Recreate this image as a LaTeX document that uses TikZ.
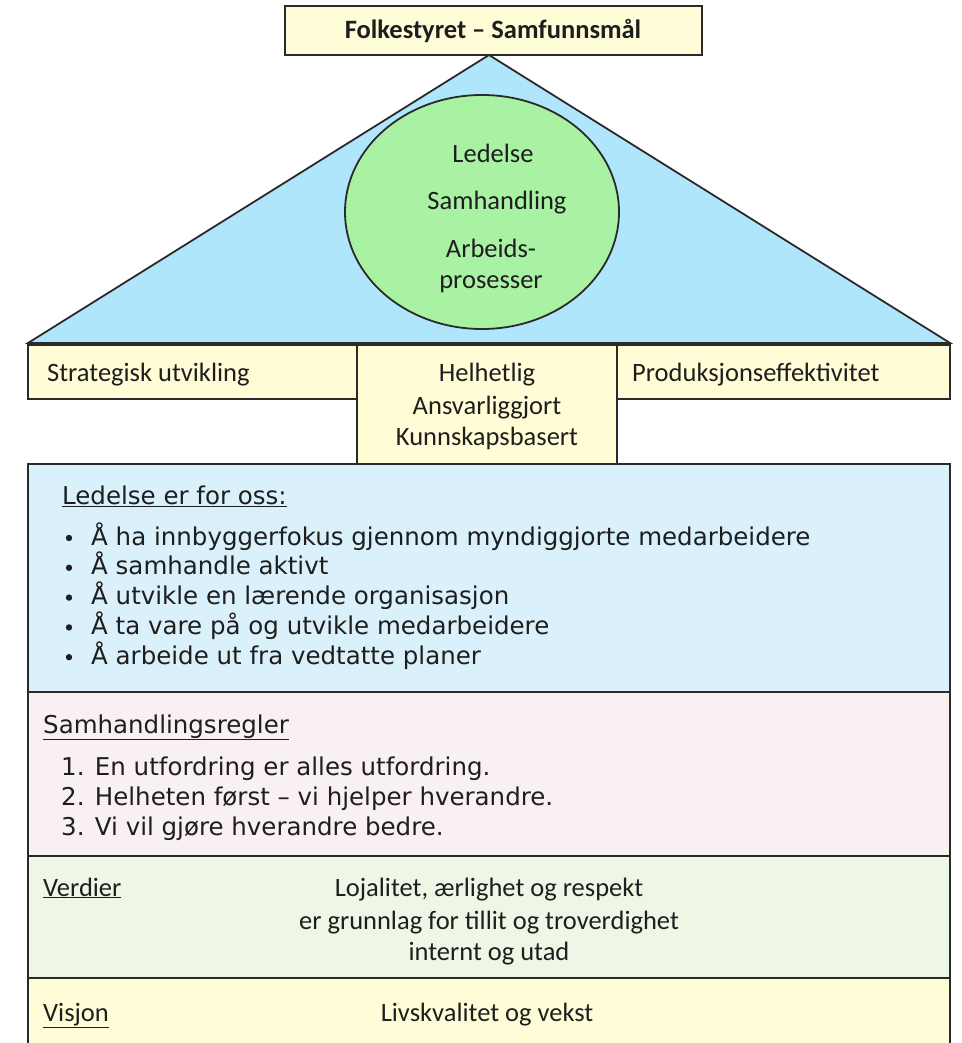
\documentclass[tikz,border=0pt]{standalone}
\usepackage{fontspec}
\usetikzlibrary{shapes.geometric}
\setmainfont{Carlito}
\newfontfamily\verd{DejaVu Sans}
\definecolor{titlefill}{HTML}{FFFDD8}
\definecolor{trifill}{HTML}{B0E6FB}
\definecolor{ellfill}{HTML}{A9F2A3}
\definecolor{rowfill}{HTML}{FFFCD6}
\definecolor{bluefill}{HTML}{DAF1FB}
\definecolor{pinkfill}{HTML}{F9F1F1}
\definecolor{greenfill}{HTML}{EEF6E6}
\definecolor{visfill}{HTML}{FFFDD8}
\definecolor{edge}{HTML}{2A2A2A}
\definecolor{ink}{HTML}{1E1E1E}
\begin{document}
\begin{tikzpicture}[x=1pt,y=-1pt,
  boxline/.style={draw=edge,line width=1.8pt},
  txt/.style={inner sep=0pt,text=ink,font=\fontsize{26.5}{30}\selectfont},
  vtxt/.style={inner sep=0pt,text=ink,font=\verd\fontsize{24.5}{28}\selectfont},
  lft/.style={anchor=base west},
  mid/.style={anchor=base}]
\useasboundingbox (0,0) rectangle (961,1043);
\clip (0,0) rectangle (961,1043);
% roof
\coordinate (apex) at (489,55);
\coordinate (bl) at (28,343);
\coordinate (br) at (950,343);
\draw[boxline,fill=trifill,line join=miter] (apex) -- (bl) -- (br) -- cycle;
\node[boxline,fill=ellfill,ellipse,minimum width=274pt,minimum height=234pt,inner sep=0pt] (ell) at (482,212) {};
\node[txt,mid] (e1) at (493,163) {Ledelse};
\node[txt,mid] (e2) at (497,209) {Samhandling};
\node[txt,mid] (e3) at (491,257) {Arbeids-};
\node[txt,mid] (e4) at (491,288) {prosesser};
% title
\draw[boxline,fill=titlefill] (285,6) rectangle (702,55);
\node[txt,mid,font=\bfseries\fontsize{26.5}{30}\selectfont] (title) at (493,39) {Folkestyret – Samfunnsmål};
% row
\draw[boxline,fill=rowfill] (28,345) rectangle (357,399);
\draw[boxline,fill=rowfill] (617,345) rectangle (950,399);
\draw[boxline,fill=rowfill] (357,345) rectangle (617,464);
\node[txt,lft] (strat) at (47,381) {Strategisk utvikling};
\node[txt,mid] (h1) at (487,381) {Helhetlig};
\node[txt,mid] (h2) at (487,414) {Ansvarliggjort};
\node[txt,mid] (h3) at (487,445) {Kunnskapsbasert};
\node[txt,lft] (prod) at (632,381) {Produksjonseffektivitet};
% ledelse
\draw[boxline,fill=bluefill] (28,464) rectangle (950,692);
\node[vtxt,lft] (led) at (62,504) {\underline{Ledelse er for oss:}};
\foreach \t [count=\i] in {Å ha innbyggerfokus gjennom myndiggjorte medarbeidere,Å samhandle aktivt,Å utvikle en lærende organisasjon,Å ta vare på og utvikle medarbeidere,Å arbeide ut fra vedtatte planer}{
  \node[vtxt,lft] (b\i) at (91,{545+(\i-1)*29.8}) {\t};
  \fill[ink] (69,{538+(\i-1)*29.8}) circle (3.2pt);
}
% samhandling
\draw[boxline,fill=pinkfill] (28,692) rectangle (950,856);
\node[vtxt,lft] (sam) at (43,733) {\underline{Samhandlingsregler}};
\node[vtxt,lft] (r1) at (61,775) {1. En utfordring er alles utfordring.};
\node[vtxt,lft] (r2) at (61,805) {2. Helheten først – vi hjelper hverandre.};
\node[vtxt,lft] (r3) at (61,835) {3. Vi vil gjøre hverandre bedre.};
% verdier
\draw[boxline,fill=greenfill] (28,856) rectangle (950,978);
\node[txt,lft] (verd) at (43,896) {\underline{Verdier}};
\node[txt,mid] (v1) at (489,896) {Lojalitet, ærlighet og respekt};
\node[txt,mid] (v2) at (489,929) {er grunnlag for tillit og troverdighet};
\node[txt,mid] (v3) at (489,960) {internt og utad};
% visjon
\draw[boxline,fill=visfill] (28,978) rectangle (950,1060);
\node[txt,lft] (vis) at (43,1021) {\underline{Visjon}};
\node[txt,mid] (vis2) at (487,1021) {Livskvalitet og vekst};
\end{tikzpicture}
\end{document}
